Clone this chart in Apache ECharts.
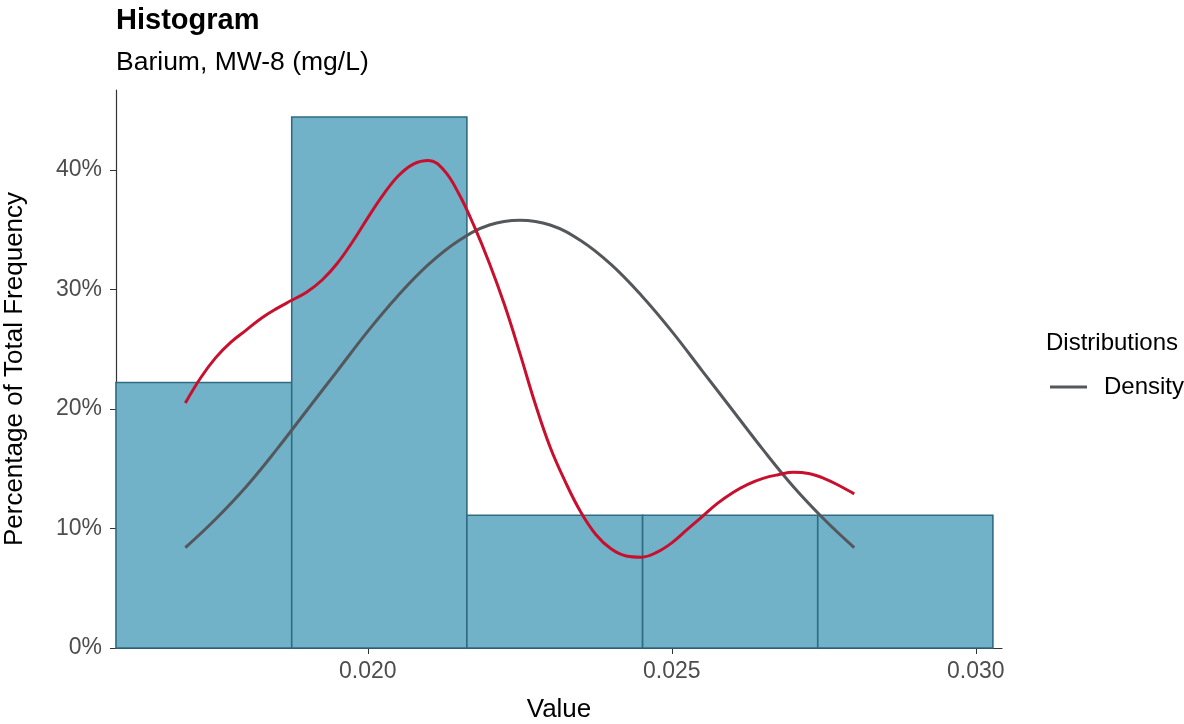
<!DOCTYPE html>
<html>
<head>
<meta charset="utf-8">
<script src="https://cdn.jsdelivr.net/npm/echarts@6/dist/echarts.min.js"></script>
<style>
html,body{margin:0;padding:0;background:#fff;}
#chart{width:1184px;height:724px;}
</style>
</head>
<body>
<div id="chart"></div>
<script>
// Histogram bins (value edges) and percentage of total frequency
const binStart = [0.01586, 0.01875, 0.02163, 0.02452, 0.02740];
const binEnd   = [0.01875, 0.02163, 0.02452, 0.02740, 0.03028];
const binPct   = [22.22, 44.44, 11.11, 11.11, 11.11];

// Kernel density curve (red)
const kdeX = [0.01700,0.01725,0.01750,0.01775,0.01800,0.01825,0.01850,0.01875,0.01900,0.01925,
              0.01950,0.01975,0.02000,0.02025,0.02050,0.02075,0.02100,0.02125,0.02150,0.02175,
              0.02200,0.02225,0.02250,0.02275,0.02300,0.02325,0.02350,0.02375,0.02400,0.02425,
              0.02450,0.02475,0.02500,0.02525,0.02550,0.02575,0.02600,0.02625,0.02650,0.02675,
              0.02700,0.02725,0.02750,0.02775,0.02800];
const kdeY = [20.5,22.6,24.3,25.6,26.6,27.6,28.4,29.1,29.8,30.8,
              32.2,34.0,36.0,37.9,39.5,40.5,40.8,40.0,38.0,35.3,
              32.2,28.7,24.7,20.5,16.8,13.9,11.4,9.5,8.3,7.7,
              7.6,8.0,8.8,9.9,11.0,12.1,13.0,13.7,14.2,14.5,
              14.7,14.6,14.2,13.6,12.9];

// Density curve (grey)
const densX = [0.0170,0.0175,0.0180,0.0185,0.0190,0.0195,0.0200,0.0205,0.0210,0.0215,0.0220,0.0225,
               0.0230,0.0235,0.0240,0.0245,0.0250,0.0255,0.0260,0.0265,0.0270,0.0275,0.0280];
const densY = [8.4,10.8,13.5,16.6,19.9,23.2,26.5,29.5,32.1,34.1,35.4,35.8,
               35.4,34.1,32.1,29.5,26.5,23.2,19.9,16.6,13.5,10.8,8.4];

const xTicks = [0.020, 0.025, 0.030];
const yTicks = [0, 10, 20, 30, 40];

const FONT = '"Liberation Sans", Arial, sans-serif';
const chart = echarts.init(document.getElementById('chart'), null, {renderer:'canvas'});

const histData = binStart.map((s, i) => [s, binEnd[i], binPct[i]]);
const kdeData = kdeX.map((x, i) => [x, kdeY[i]]);
const densData = densX.map((x, i) => [x, densY[i]]);

chart.setOption({
  animation: false,
  backgroundColor: '#ffffff',
  title: [
    {text: 'Histogram', left: 116, top: 6, padding: 0,
     textStyle: {fontFamily: FONT, fontSize: 29, fontWeight: 'bold', color: '#000'}},
    {text: 'Barium, MW-8 (mg/L)', left: 116, top: 49, padding: 0,
     textStyle: {fontFamily: FONT, fontSize: 26.5, fontWeight: 'normal', color: '#000'}}
  ],
  grid: {left: 116, right: 182, top: 90, bottom: 76, outerBoundsMode: 'none', containLabel: false},
  legend: {
    data: [{name: 'Density', icon: 'rect'}],
    left: 1050, top: 375, padding: 0,
    itemWidth: 37, itemHeight: 3,
    textStyle: {fontFamily: FONT, fontSize: 24, color: '#000', padding: [0,0,0,12]}
  },
  graphic: [
    {type: 'text', left: 1046, top: 331,
     style: {text: 'Distributions', fontFamily: FONT, fontSize: 24, fill: '#000'}}
  ],
  xAxis: {
    type: 'value', min: 0.01586, max: 0.03043,
    name: 'Value', nameLocation: 'middle', nameGap: 49,
    nameTextStyle: {fontFamily: FONT, fontSize: 26, color: '#000'},
    axisLine: {show: true, lineStyle: {color: '#333', width: 1.2}},
    axisTick: {show: true, length: 6, lineStyle: {color: '#333'}, customValues: xTicks},
    axisLabel: {fontFamily: FONT, fontSize: 23, color: '#4D4D4D', margin: 12,
      customValues: xTicks, formatter: v => v.toFixed(3)},
    splitLine: {show: false}
  },
  yAxis: {
    type: 'value', min: 0, max: 46.7,
    name: 'Percentage of Total Frequency', nameLocation: 'middle', nameGap: 88,
    nameTextStyle: {fontFamily: FONT, fontSize: 26, color: '#000'},
    axisLine: {show: true, lineStyle: {color: '#333', width: 1.2}},
    axisTick: {show: true, length: 6, lineStyle: {color: '#333'}, customValues: yTicks},
    axisLabel: {fontFamily: FONT, fontSize: 23, color: '#4D4D4D', margin: 14,
      customValues: yTicks, formatter: v => v + '%'},
    splitLine: {show: false}
  },
  series: [
    {
      name: 'Histogram', type: 'custom', z: 1,
      data: histData,
      encode: {x: [0, 1], y: 2},
      renderItem: function (params, api) {
        const p0 = api.coord([api.value(0), api.value(2)]);
        const p1 = api.coord([api.value(1), 0]);
        return {
          type: 'rect',
          shape: {x: p0[0], y: p0[1], width: p1[0] - p0[0], height: p1[1] - p0[1]},
          style: {fill: '#72B2C8', stroke: '#2F6C82', lineWidth: 1.6}
        };
      }
    },
    {
      name: 'Density', type: 'line', z: 3,
      data: densData, smooth: 0.4, showSymbol: false, symbol: 'none',
      lineStyle: {color: '#54585C', width: 3},
      itemStyle: {color: '#54585C'}
    },
    {
      name: 'Kernel', type: 'line', z: 4,
      data: kdeData, smooth: 0.4, showSymbol: false, symbol: 'none',
      lineStyle: {color: '#C8102E', width: 3},
      itemStyle: {color: '#C8102E'}
    }
  ]
});
</script>
</body>
</html>
